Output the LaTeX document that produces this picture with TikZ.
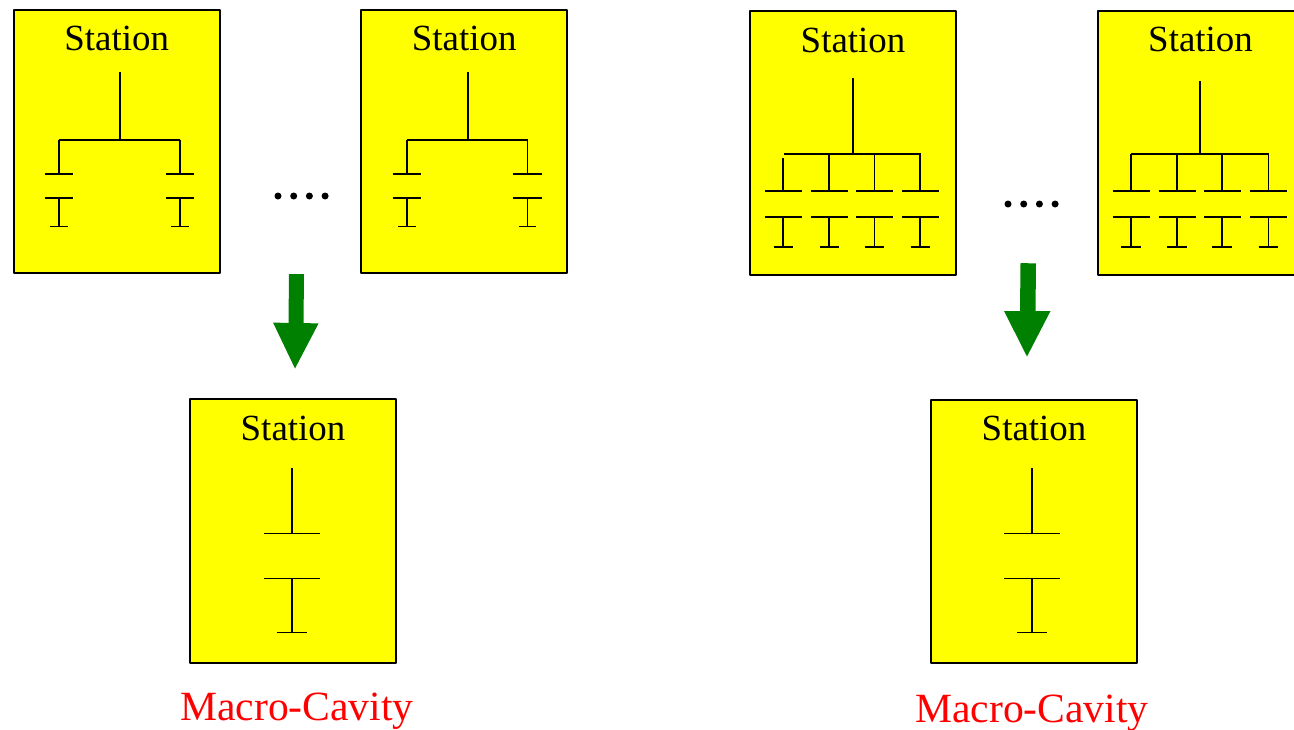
\documentclass[tikz,border=0pt]{standalone}
\usepackage{fontspec}
\setmainfont{Liberation Serif}
\definecolor{stationyellow}{RGB}{255,255,0}
\definecolor{arrowgreen}{RGB}{0,128,0}
\definecolor{macrored}{RGB}{255,0,0}
\tikzset{
  stationbox/.style={draw=black,fill=stationyellow,line width=1pt,line join=round},
  stationtext/.style={font=\fontsize{18.45pt}{20pt}\selectfont,text=black,inner sep=0pt,anchor=base},
  macrotext/.style={font=\fontsize{20.8pt}{23pt}\selectfont,text=macrored,inner sep=0pt,anchor=base},
  wire/.style={draw=black,line width=0.95pt},
  bigarrow/.style={fill=arrowgreen,draw=none},
  dotmark/.style={fill=black,draw=none}
}
% #1 drop x, #2 wire top y, #3 upper plate y, #4 lower plate y, #5 end y, #6 half plate, #7 half short plate
\newcommand{\capunit}[7]{%
  \draw[wire] (#1,#2) -- (#1,#3);
  \draw[wire] (#1-#6,#3) -- (#1+#6,#3);
  \draw[wire] (#1-#6,#4) -- (#1+#6,#4);
  \draw[wire] (#1,#4) -- (#1,#5);
  \draw[wire] (#1-#7,#5) -- (#1+#7,#5);
}
\newcommand{\fourdots}[2]{%
  \foreach \k in {0,1,2,3} \fill[dotmark] (#1+15.7*\k,#2) circle (3.5);
}
\begin{document}
\begin{tikzpicture}[x=0.5pt,y=-0.5pt]
\useasboundingbox (0,0) rectangle (1294,729);
% top-left stations
\draw[stationbox] (13.5,9.5) rectangle (219.5,273);
\node[stationtext] (s1) at (116.7,50.4) {Station};
\draw[wire] (120,72) -- (120,140);
\draw[wire] (59,140) -- (180,140);
\capunit{59}{140}{174}{198}{226.5}{14.3}{8.7}
\capunit{180}{140}{174}{198}{226.5}{14.3}{8.7}
\draw[stationbox] (361,9.5) rectangle (567,273);
\node[stationtext] (s2) at (464.2,50.4) {Station};
\draw[wire] (468,72) -- (468,140);
\draw[wire] (407,140) -- (527.5,140);
\capunit{407}{140}{174}{198}{226.5}{14.3}{8.7}
\capunit{527.5}{140}{174}{198}{226.5}{14.3}{8.7}
\fourdots{278}{196}
% top-right stations
\draw[stationbox] (749.5,11) rectangle (956,275);
\node[stationtext] (s3) at (853,52.4) {Station};
\draw[wire] (853,78) -- (853,153);
\draw[wire] (783.5,153.7) -- (920.5,153.7);
\capunit{783.3}{158}{191}{217}{247}{18.5}{9.8}
\capunit{829.3}{153.7}{191}{217}{247}{18.5}{9.8}
\capunit{874.5}{153.7}{191}{217}{247}{18.5}{9.8}
\capunit{920.3}{153.7}{191}{217}{247}{18.5}{9.8}
\draw[stationbox] (1097.6,10.5) rectangle (1310,275);
\node[stationtext] (s4) at (1200.5,51.9) {Station};
\draw[wire] (1200,81) -- (1200,153);
\draw[wire] (1131,153.7) -- (1268.5,153.7);
\capunit{1131}{153.7}{191}{217}{247}{18.5}{9.8}
\capunit{1177}{153.7}{191}{217}{247}{18.5}{9.8}
\capunit{1222}{153.7}{191}{217}{247}{18.5}{9.8}
\capunit{1268.5}{153.7}{191}{217}{247}{18.5}{9.8}
\fourdots{1008}{204}
% arrows
\fill[bigarrow] (289,274) -- (304,274) -- (303.5,323) -- (318.5,323.5) -- (295,368.5) -- (273,322.5) -- (288.5,323) -- cycle;
\fill[bigarrow] (1020.5,263) -- (1036,263.5) -- (1035.5,311) -- (1050.5,311) -- (1027,356.5) -- (1004,311) -- (1020,311) -- cycle;
% bottom stations
\draw[stationbox] (190,399) rectangle (396,663);
\node[stationtext] (s5) at (293,440.4) {Station};
\capunit{291.7}{468}{533.5}{578.5}{632.5}{28}{15}
\draw[stationbox] (931,399.5) rectangle (1137,663);
\node[stationtext] (s6) at (1034,440.4) {Station};
\capunit{1032}{468}{533.5}{578.5}{632.5}{28}{15}
% captions
\node[macrotext] (m1) at (297,720) {Macro-Cavity};
\node[macrotext] (m2) at (1032,722) {Macro-Cavity};
\end{tikzpicture}
\end{document}
